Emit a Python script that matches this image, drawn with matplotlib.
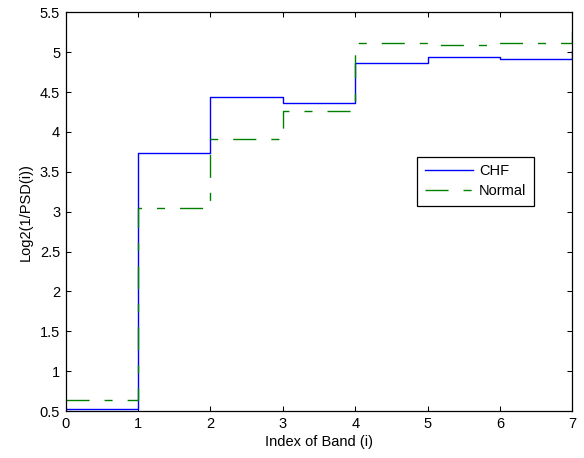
import matplotlib
matplotlib.use("Agg")
import matplotlib.pyplot as plt
import numpy as np

plt.rcParams['font.family'] = ['Liberation Sans', 'DejaVu Sans']

band_index = [0, 1, 2, 3, 4, 5, 6, 7]
chf_values = [0.525, 3.735, 4.44, 4.36, 4.86, 4.935, 4.91, 5.02]
normal_values = [0.634, 3.04, 3.907, 4.26, 5.12, 5.09, 5.12, 5.30]
series_labels = ["CHF", "Normal"]
x_ticks = [0, 1, 2, 3, 4, 5, 6, 7]
y_ticks = [0.5, 1, 1.5, 2, 2.5, 3, 3.5, 4, 4.5, 5, 5.5]

fig = plt.figure(figsize=(5.84, 4.58), dpi=100)
ax = fig.add_axes([0.1125, 0.1026, 0.8675, 0.8706])

ax.step(band_index, chf_values, where='post', color='#0000ff', lw=1.0,
        label=series_labels[0])
ax.step(band_index, normal_values, where='post', color='#008000', lw=1.0,
        linestyle=(0, (16.6, 10.8, 5.8, 10.8)), label=series_labels[1])

ax.set_xlim(0, 7)
ax.set_ylim(0.5, 5.5)
ax.set_xticks(x_ticks)
ax.set_yticks(y_ticks)
ax.set_xticklabels([str(v) for v in x_ticks])
ax.set_yticklabels([f"{v:g}" for v in y_ticks])

fs = 10.5
ax.tick_params(direction='in', length=3.6, width=0.75, top=True, right=True,
               labelsize=fs, colors='black')
ax.tick_params(axis='x', pad=4)
ax.tick_params(axis='y', pad=4)
for s in ax.spines.values():
    s.set_linewidth(0.9)
    s.set_color('black')

ax.set_xlabel("Index of Band (i)", fontsize=fs, labelpad=3)
ax.set_ylabel("Log2(1/PSD(i))", fontsize=fs, labelpad=5)

leg = ax.legend(loc='upper left', bbox_to_anchor=(0.694, 0.638),
                borderaxespad=0, fancybox=False, edgecolor='black',
                fontsize=fs, handlelength=3.3, handletextpad=0.44,
                labelspacing=0.45, borderpad=0.5, framealpha=1)
leg.get_frame().set_linewidth(0.9)

fig.savefig("out.png", dpi=100, facecolor='white')
